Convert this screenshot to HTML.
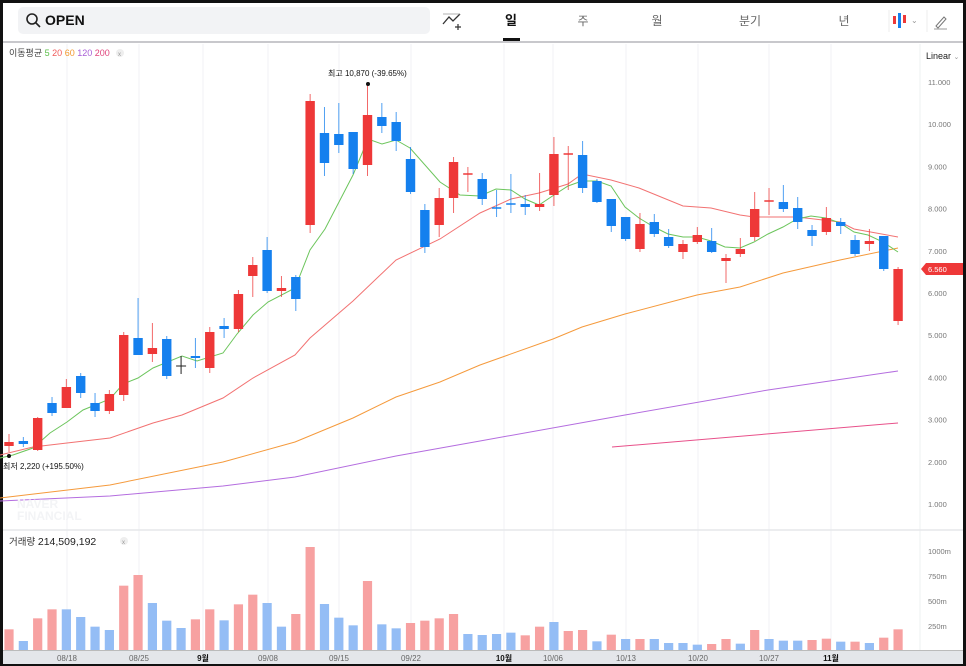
<!DOCTYPE html>
<html><head><meta charset="utf-8">
<style>
html,body{margin:0;padding:0;background:#111;}
#w{position:relative;width:966px;height:666px;overflow:hidden;background:#111;}
#p{position:absolute;left:3px;top:3px;width:960px;height:661px;background:#fff;}
svg{position:absolute;left:0;top:0;}
text{font-family:"Liberation Sans","Noto Sans CJK KR",sans-serif;}
</style></head><body>
<div id="w"><div id="p"></div>
<svg id="s" width="966" height="666" viewBox="0 0 966 666"></svg>
</div>
<script>
var C=[
['r',442,446,434,452],['b',441,444,437,447],['r',418,450,417,451],['b',403,413,397,416],['r',387,408,379,408],
['b',376,393,373,398],['b',403,411,393,417],['r',394,411,390,414],['r',335,395,332,401],['b',338,355,298,355],
['r',348,354,323,362],['b',339,376,336,379],['k',366,366,356,374],['b',356,358,338,368],['r',332,368,327,373],
['b',326,329,318,338],['r',294,329,290,332],['r',265,276,257,297],['b',250,291,237,293],['r',288,291,276,297],
['b',277,299,275,311],['r',101,225,94,233],['b',133,163,107,176],['b',134,145,103,153],['b',132,169,132,174],
['r',115,165,84,176],['b',117,126,103,133],['b',122,141,112,151],['b',159,192,147,194],['b',210,247,204,253],
['r',198,225,188,237],['r',162,198,157,213],['r',174,174,167,192],['b',179,199,173,205],['b',208,209,190,217],
['b',204,205,174,213],['b',204,207,195,215],['r',204,207,173,211],['r',154,195,137,206],['r',154,154,146,190],
['b',155,188,141,193],['b',181,202,179,203],['b',199,226,199,232],['b',217,239,217,241],['r',224,249,213,252],
['b',222,234,214,237],['b',237,246,229,248],['r',244,252,240,259],['r',235,242,227,244],['b',241,252,228,253],
['r',258,261,254,283],['r',249,254,238,257],['r',209,237,192,241],['r',201,201,188,215],['b',202,209,185,212],
['b',208,222,197,229],['b',230,236,225,246],['r',218,232,207,235],['b',222,226,218,234],['b',240,254,235,256],
['r',241,244,229,251],['b',236,269,236,271],['r',269,321,267,325]];
var V=[298,333,265,238,238,261,290,300,167,135,219,272,294,268,238,271,223,194,219,290,252,51,222,263,286,153,283,295,279,272,265,252,312,315,312,308,316,290,276,303,300,334,314,327,327,327,339,339,344,342,327,341,300,327,332,332,330,326,335,335,339,323,298];
var VC="rbrrbbbbrrbbbrrbrrbbrrbbbrbbrrrrbbbbrrbrrbrbrbbbbrrbrbbbrrbrbrr";
var RED='#ee3838',BLUE='#1580ee';
var s='';
// grid
[67,139,203,268,339,411,504,553,626,698,769,831].forEach(function(x){s+='<line x1="'+x+'" y1="44" x2="'+x+'" y2="651" stroke="#f1f2f4" stroke-width="1"/>';});
// header
s+='<rect x="18" y="7" width="412" height="27" rx="5" fill="#f2f3f5"/>';
s+='<circle cx="32" cy="19" r="5" fill="none" stroke="#222" stroke-width="1.6"/><line x1="36" y1="23" x2="40" y2="27" stroke="#222" stroke-width="1.6"/>';
s+='<text x="45" y="25" font-size="14" font-weight="bold" fill="#111">OPEN</text>';
s+='<path d="M443 24 L449 17 L453 21 L460 14" fill="none" stroke="#333" stroke-width="1.3"/><line x1="443" y1="14" x2="460" y2="14" stroke="#999" stroke-width="0.8"/><path d="M455 27 h6 M458 24 v6" stroke="#333" stroke-width="1.2"/>';
s+='<text x="511" y="25" font-size="13" font-weight="bold" fill="#111" text-anchor="middle">일</text><rect x="503" y="38" width="17" height="3" fill="#111"/>';
[['주',583],['월',657],['분기',750],['년',844]].forEach(function(t){s+='<text x="'+t[1]+'" y="25" font-size="12" fill="#666" text-anchor="middle">'+t[0]+'</text>';});
s+='<line x1="889" y1="10" x2="889" y2="32" stroke="#eee"/><rect x="893" y="16" width="3" height="8" fill="'+RED+'"/><rect x="898" y="13" width="3" height="15" fill="'+BLUE+'"/><rect x="903" y="15" width="3" height="8" fill="'+RED+'"/><text x="911" y="23" font-size="8" fill="#999">⌄</text>';
s+='<line x1="927" y1="10" x2="927" y2="32" stroke="#eee"/><path d="M936 26 L944 17 L946 19 L938 28 Z" fill="none" stroke="#777" stroke-width="1"/><line x1="934" y1="29" x2="947" y2="29" stroke="#999"/>';
s+='<rect x="3" y="41" width="960" height="2" fill="#c8c8cc"/>';
// legend
s+='<text x="9" y="56" font-size="9" fill="#444">이동평균 <tspan fill="#5cbf4a">5</tspan> <tspan fill="#f05a5a">20</tspan> <tspan fill="#f39a2f">60</tspan> <tspan fill="#a85ed6">120</tspan> <tspan fill="#e0447c">200</tspan></text><circle cx="120" cy="53" r="4" fill="#eee"/><text x="118" y="56" font-size="6" fill="#999">x</text>';
s+='<text x="926" y="59" font-size="9" fill="#222">Linear <tspan fill="#999" font-size="7">⌄</tspan></text>';
// right axis
s+='<line x1="920" y1="44" x2="920" y2="651" stroke="#eef0f2"/>';
for(var k=1;k<=11;k++){var y=82+(11000-k*1000)*0.0422;s+='<text x="928" y="'+(y+3)+'" font-size="7.5" fill="#777">'+(k<10?k+',000':(k)+',000').replace(',','.')+'</text>';}
s+='<path d="M921 269 L926 263 L963 263 L963 275 L926 275 Z" fill="'+RED+'"/><text x="928" y="272" font-size="7.5" fill="#fff">6.560</text>';
// MA lines
function pl(pts,c,w){s+='<polyline points="'+pts+'" fill="none" stroke="'+c+'" stroke-width="'+(w||1)+'"/>';}
pl('612,447 898,423','#e8508a');
pl('0,501 110,496 223,486 295,477 396,456 480,441 625,415 768,390 898,371','#b46ddf');
pl('0,498 110,485 223,462 295,442 353,418 396,397 440,382 480,365 553,339 582,327 625,314 697,295 740,287 783,273 840,260 898,248','#f59a3c');
pl('0,455 33,447 67,443 110,438 153,423 182,415 223,398 253,378 295,355 310,338 353,301 396,260 440,239 480,213 511,199 539,193 568,184 582,174 611,180 639,188 683,206 711,208 740,215 754,217 797,217 840,222 854,229 898,237','#f27272');
pl('0,458 13,455 33,448 50,433 67,422 83,410 110,399 123,384 138,378 153,368 182,356 197,361 223,353 237,334 253,315 268,302 295,288 310,250 325,229 353,175 368,139 382,144 396,140 410,148 440,182 460,195 480,196 496,189 511,190 525,199 539,205 554,195 568,186 582,181 597,181 611,186 625,207 639,218 654,227 668,234 683,237 697,237 711,241 725,247 740,248 754,242 768,234 783,227 797,219 811,216 826,218 840,223 854,232 868,235 883,242 898,252','#6cc55c');
// candles
C.forEach(function(c,i){var x=9+14.34*i,col=c[0]=='r'?RED:(c[0]=='b'?BLUE:'#222');
 s+='<line x1="'+x+'" y1="'+c[3]+'" x2="'+x+'" y2="'+c[4]+'" stroke="'+col+'" stroke-width="1" opacity="'+(c[0]=='k'?1:0.75)+'"/>';
 var h=Math.max(c[2]-c[1],1.5);
 if(c[0]=='k')s+='<line x1="'+(x-5)+'" y1="'+c[1]+'" x2="'+(x+5)+'" y2="'+c[1]+'" stroke="#222"/>';
 else s+='<rect x="'+(x-4.7)+'" y="'+(c[1]-(h==1.5?0.75:0))+'" width="9.4" height="'+h+'" fill="'+col+'"/>';});
// annotations
s+='<circle cx="368" cy="84" r="2" fill="#111"/><text x="328" y="76" font-size="8" fill="#111" font-family="Liberation Serif">최고  10,870 (-39.65%)</text>';
s+='<circle cx="9" cy="456" r="2" fill="#111"/><text x="3" y="469" font-size="8" fill="#111" font-family="Liberation Serif">최저   2,220 (+195.50%)</text>';
s+='<text x="17" y="508" font-size="12" font-weight="bold" fill="#f3f4f6">NAVER</text><text x="17" y="520" font-size="12" font-weight="bold" fill="#f3f4f6">FINANCIAL</text>';
// volume panel
s+='<line x1="3" y1="530" x2="963" y2="530" stroke="#e6e7ea" stroke-width="1.5"/>';
s+='<text x="9" y="545" font-size="9.5" fill="#333">거래량 <tspan font-size="10.5" fill="#222">214,509,192</tspan></text><circle cx="124" cy="541" r="4" fill="#eee"/><text x="122" y="544" font-size="6" fill="#999">x</text>';
[['1000m',551],['750m',576],['500m',601],['250m',626]].forEach(function(t){s+='<text x="928" y="'+(t[1]+3)+'" font-size="7.5" fill="#777">'+t[0]+'</text>';});
V.forEach(function(v,i){var x=9+14.34*i,y=530+v/3;s+='<rect x="'+(x-4.6)+'" y="'+y+'" width="9.2" height="'+(650-y)+'" fill="'+(VC[i]=='r'?'#f7a1a1':'#94bdf5')+'"/>';});
s+='<rect x="3" y="650" width="960" height="1" fill="#bbb"/><rect x="3" y="651" width="960" height="13" fill="#e4e6ea"/>';
[['08/18',67],['08/25',139],['9월',203],['09/08',268],['09/15',339],['09/22',411],['10월',504],['10/06',553],['10/13',626],['10/20',698],['10/27',769],['11월',831]].forEach(function(t){var b=t[0].indexOf('월')>0;s+='<text x="'+t[1]+'" y="661" font-size="8" fill="'+(b?'#111':'#666')+'" '+(b?'font-weight="bold"':'')+' text-anchor="middle">'+t[0]+'</text>';});
document.getElementById('s').innerHTML=s;
</script>
</body></html>
